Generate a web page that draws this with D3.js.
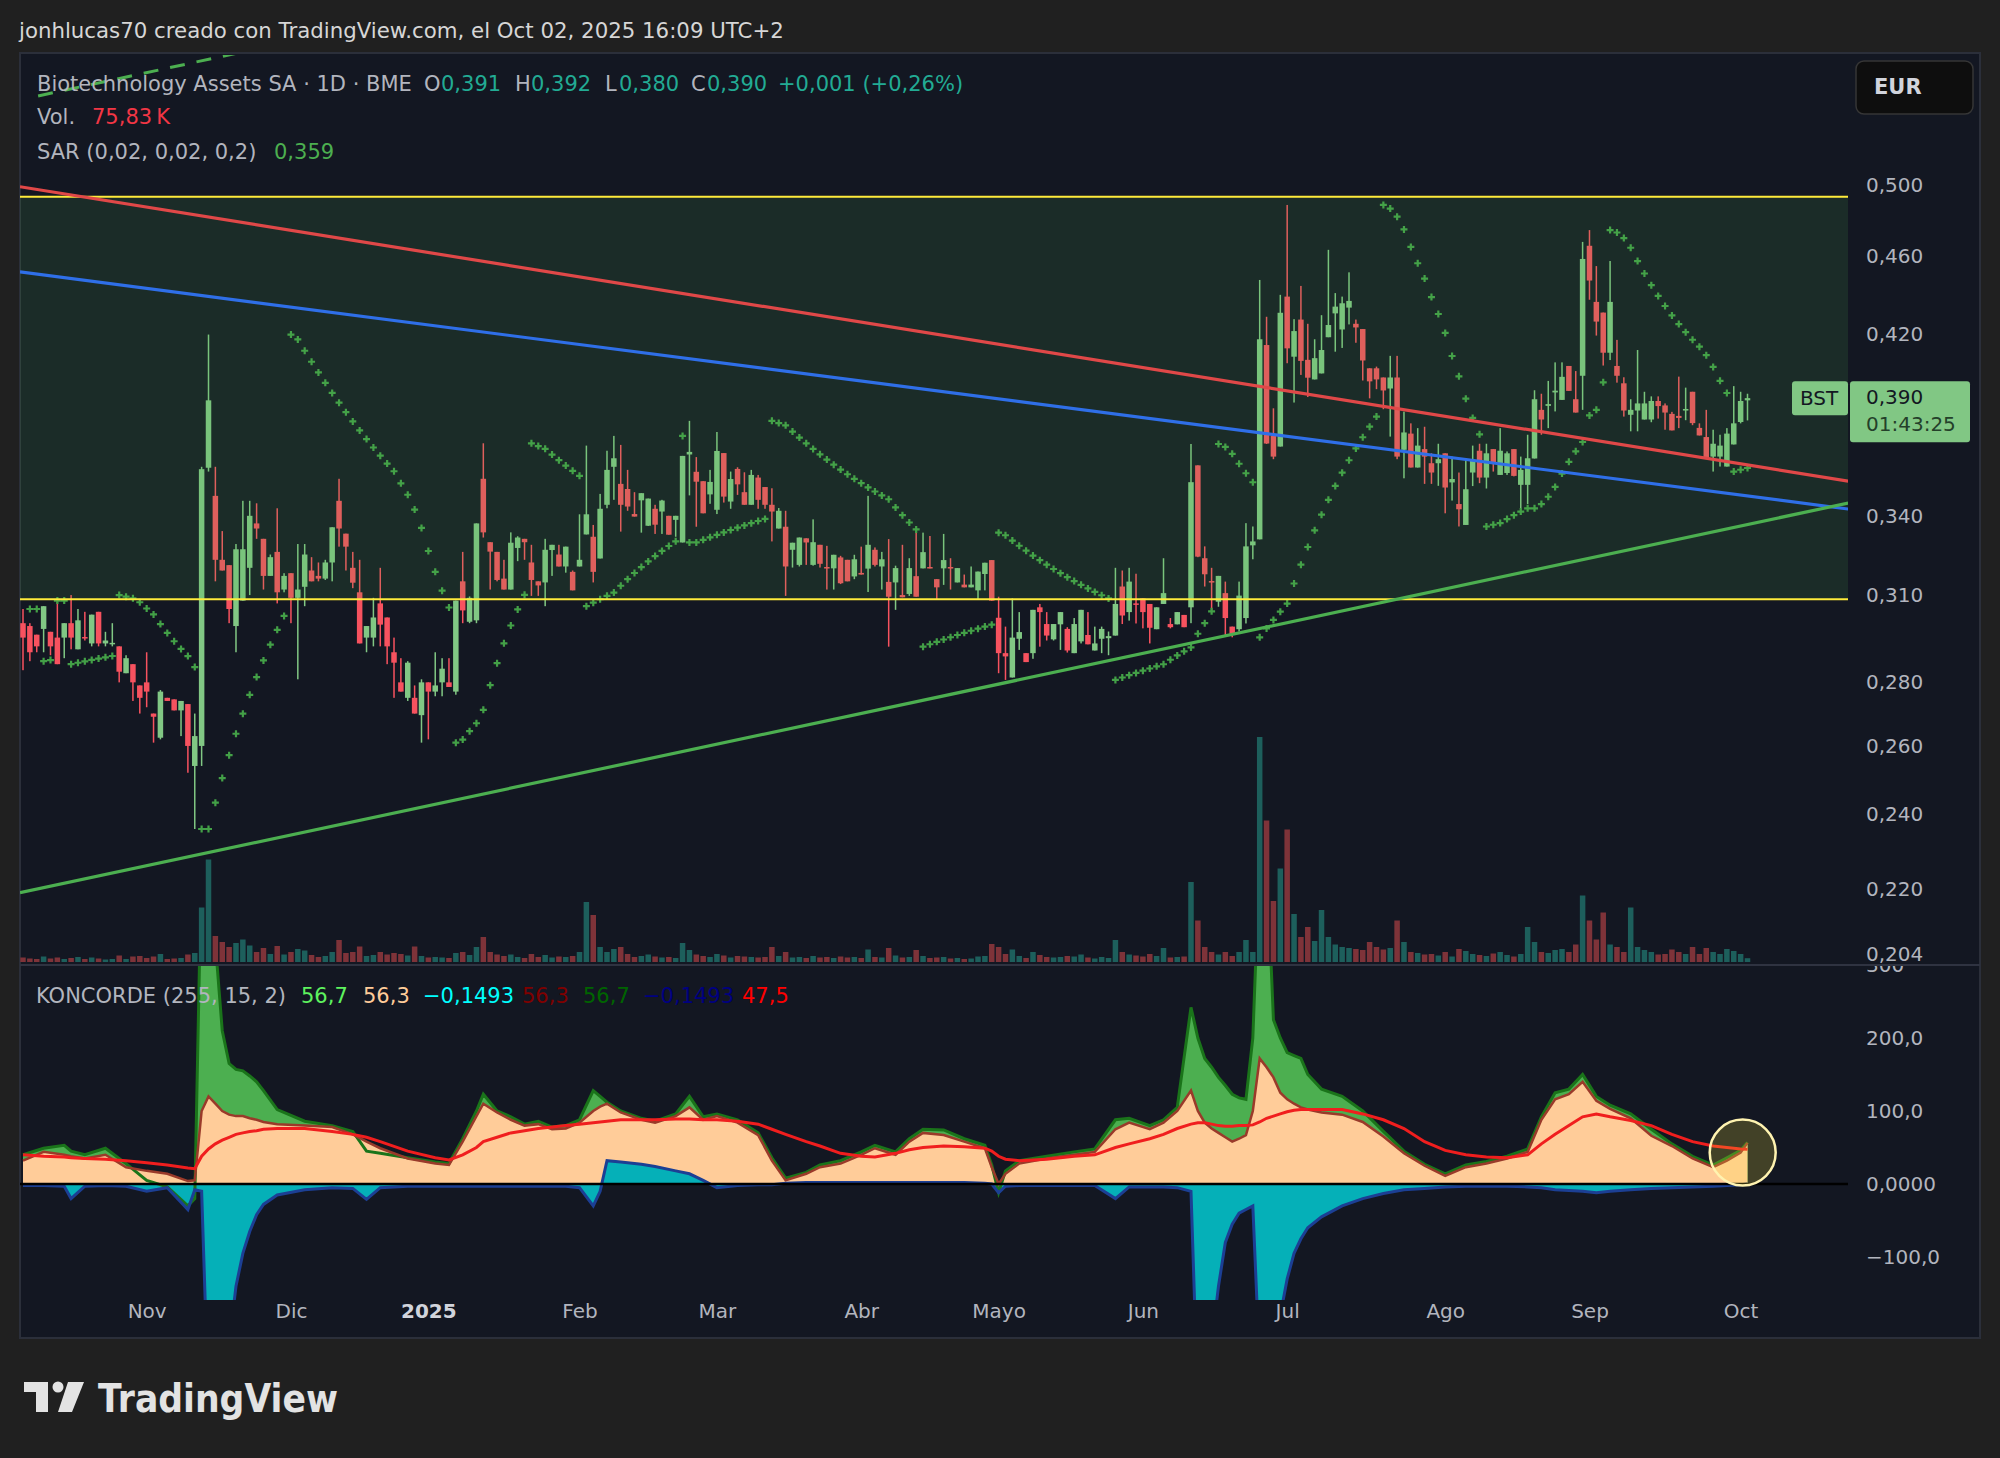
<!DOCTYPE html>
<html>
<head>
<meta charset="utf-8">
<title>BST 1D - Koncorde</title>
<script src="https://cdn.jsdelivr.net/npm/d3@7"></script>
<style>
  html, body { margin: 0; padding: 0; background: #202020; }
  svg { display: block; }
  text { font-family: "DejaVu Sans", sans-serif; }
</style>
</head>
<body>
<svg id="chart" width="2000" height="1458"></svg>
<script>
// ---------------- data ----------------
const firstDay = "2024-10-08";
const holidays = ["2024-12-25", "2024-12-26", "2025-01-01", "2025-04-18", "2025-04-21", "2025-05-01"];
const monthLabels = ["Nov", "Dic", "2025", "Feb", "Mar", "Abr", "Mayo", "Jun", "Jul", "Ago", "Sep", "Oct"];

const open = [
  .300,.299,.296,.298,.297,.295,.295,.300,.291,.2952,
  .293,.304,.293,.2928,.292,.283,.286,.279,.280,.270,
  .2625,.275,.2745,.271,.273,.254,.260,.3596,.348,.323,
  .321,.299,.308,.320,.337,.331,.317,.326,.312,.318,
  .309,.313,.319,.317,.316,.322,.346,.333,.320,.311,
  .295,.295,.307,.302,.290,.280,.275,.275,.2695,.280,
  .277,.280,.280,.277,.315,.3005,.301,.355,.3297,.326,
  .316,.312,.3275,.331,.322,.315,.3146,.3267,.325,.3205,
  .3185,.3205,.3327,.3318,.3235,.3444,.360,.3529,.3508,.3407,
  .3462,.3361,.3428,.3417,.340,.3384,.3296,.3652,.3579,.354,
  .3486,.3424,.3658,.3457,.3591,.3495,.3444,.3555,.3516,.3444,
  .335,.3357,.3268,.3211,.3312,.3211,.3287,.3203,.3198,.3239,
  .323,.3168,.3181,.3197,.3268,.3205,.3148,.3146,.310,.3104,
  .3169,.3198,.3203,.3158,.3198,.3203,.3146,.3138,.3128,.3117,
  .3177,.3229,.3019,.2897,.2816,.2946,.2897,.2897,.3056,.2997,
  .2944,.2996,.298,.2897,.2937,.2959,.2906,.2946,.2948,.2957,
  .3131,.3039,.307,.3088,.3068,.2979,.3068,.2997,.2996,.3029,
  .3056,.3606,.3236,.3151,.3076,.3107,.2988,.2979,.3018,.3285,
  .3308,.4149,.3732,.3686,.439,.4093,.4274,.4078,.3986,.4014,
  .4187,.4305,.4225,.4334,.4253,.4227,.4038,.4038,.3995,.3944,
  .3995,.3672,.3742,.3597,.3675,.3615,.3615,.3657,.3535,.3447,
  .3364,.3576,.3668,.3555,.3675,.3566,.3574,.3675,.3525,.3525,
  .3635,.3847,.3865,.3926,.3892,.4049,.3895,.4003,.4658,.4363,
  .4309,.4112,.4049,.3968,.3825,.3844,.3804,.3804,.3887,.3867,
  .3829,.382,.3844,.3929,.3767,.3727,.3643,.3643,.3601,.3695,
  .3793,.389
];
const high = [
  .305,.300,.296,.306,.297,.308,.300,.310,.305,.304,
  .303,.304,.297,.300,.292,.289,.286,.279,.290,.270,
  .2775,.275,.2745,.274,.273,.270,.360,.420,.360,.334,
  .321,.329,.346,.346,.345,.331,.325,.343,.318,.318,
  .329,.329,.324,.322,.323,.3355,.355,.333,.326,.323,
  .299,.309,.320,.302,.295,.288,.287,.279,.281,.280,
  .290,.288,.288,.308,.326,.3095,.337,.370,.3297,.326,
  .323,.3335,.332,.331,.3287,.315,.331,.3287,.3287,.328,
  .319,.3406,.369,.3364,.3488,.3668,.3732,.3693,.3587,.3495,
  .3491,.3469,.3444,.3464,.340,.340,.3646,.3798,.3641,.354,
  .3587,.3749,.3658,.358,.3598,.3577,.3587,.3566,.3516,.3511,
  .3431,.342,.3295,.3315,.3312,.3386,.3287,.3283,.3249,.3245,
  .323,.3249,.328,.348,.3277,.326,.3309,.3208,.3287,.3236,
  .3338,.3334,.3321,.3158,.3329,.3236,.3199,.3175,.3205,.3186,
  .3219,.3229,.3094,.2988,.3088,.3039,.2897,.3047,.3068,.3039,
  .2997,.3039,.2986,.3018,.3047,.3039,.2988,.2988,.2971,.320,
  .319,.320,.3178,.3088,.3068,.3056,.3236,.3018,.3039,.3029,
  .3697,.3606,.3281,.320,.317,.3149,.2988,.3149,.3371,.3358,
  .4476,.4288,.3854,.4399,.4885,.4276,.4445,.4253,.4177,.4296,
  .4636,.4408,.439,.4516,.4274,.4227,.4038,.4046,.3995,.4097,
  .4097,.3839,.3787,.3766,.3772,.3657,.3698,.3657,.3643,.3576,
  .3636,.369,.3698,.3698,.3675,.3766,.3665,.3675,.3643,.3737,
  .3936,.392,.3979,.4066,.4066,.4049,.4025,.4679,.4744,.4549,
  .4309,.4576,.4174,.3996,.3895,.4125,.3929,.3908,.3908,.3876,
  .3838,.3999,.3948,.3929,.3787,.3847,.3759,.3737,.3766,.3955,
  .3929,.392
];
const low = [
  .284,.287,.290,.290,.289,.286,.288,.291,.291,.294,
  .292,.292,.292,.292,.280,.283,.274,.270,.272,.261,
  .262,.274,.271,.263,.252,.236,.254,.358,.315,.319,
  .300,.290,.308,.310,.331,.312,.317,.307,.311,.300,
  .281,.306,.315,.315,.3155,.315,.328,.319,.3125,.293,
  .290,.292,.292,.286,.275,.277,.274,.270,.261,.262,
  .2755,.2755,.2785,.276,.300,.300,.300,.3315,.312,.315,
  .312,.312,.3225,.323,.3097,.3097,.306,.317,.3205,.3182,
  .3117,.3205,.3327,.3146,.3235,.343,.3464,.3338,.342,.3397,
  .3334,.336,.3329,.3329,.3326,.3318,.3296,.3482,.3357,.341,
  .3448,.3407,.3453,.3428,.3484,.3444,.3444,.3428,.3428,.330,
  .335,.3097,.3201,.3205,.3211,.3208,.3201,.312,.312,.314,
  .315,.3158,.3175,.3111,.3205,.312,.2919,.3047,.3092,.3097,
  .3094,.3198,.3198,.3083,.3137,.312,.3146,.3128,.3128,.3083,
  .3117,.308,.283,.2808,.2816,.2908,.2867,.2878,.2919,.294,
  .294,.2908,.2899,.2897,.293,.2927,.2906,.2897,.289,.2957,
  .2997,.3009,.2999,.2982,.293,.2979,.3068,.2982,.2996,.2986,
  .300,.324,.3131,.3044,.3058,.2953,.2951,.2971,.2999,.3232,
  .3308,.3697,.3632,.3686,.4062,.388,.4007,.3905,.3986,.4014,
  .4187,.4117,.4135,.425,.416,.3981,.3899,.3941,.385,.3729,
  .3632,.3552,.3597,.3597,.3529,.3529,.3521,.341,.3461,.3358,
  .3364,.352,.3532,.351,.358,.3566,.3566,.356,.343,.3447,
  .3635,.3737,.3766,.384,.3892,.3933,.3835,.3847,.4374,.4195,
  .4051,.4077,.3971,.3817,.3752,.3752,.3804,.3792,.3808,.3759,
  .3756,.3766,.3801,.3779,.3734,.3635,.358,.3601,.3601,.3695,
  .3787,.380
];
const close = [
  .295,.290,.292,.306,.292,.286,.300,.295,.301,.2947,
  .303,.293,.294,.2932,.2835,.288,.280,.275,.277,.269,
  .277,.274,.271,.274,.260,.263,.359,.389,.323,.319,
  .305,.327,.327,.340,.335,.317,.324,.311,.317,.309,
  .312,.325,.315,.316,.322,.3355,.335,.328,.3145,.293,
  .299,.302,.2995,.292,.2865,.277,.2865,.270,.280,.277,
  .279,.2845,.2785,.308,.3045,.309,.337,.3335,.3261,.3155,
  .312,.3295,.3315,.3297,.3155,.3135,.3268,.3287,.3205,.328,
  .3117,.323,.3406,.3185,.3428,.3587,.3636,.3444,.3437,.3397,
  .3491,.3469,.3365,.3461,.3326,.340,.3646,.3663,.3538,.341,
  .3537,.3667,.3477,.3549,.3527,.3444,.3566,.3464,.3444,.3417,
  .342,.3205,.3295,.3315,.3296,.3297,.3215,.3198,.3249,.3143,
  .315,.3232,.3175,.3287,.3211,.3232,.3094,.3199,.3092,.3199,
  .3094,.3259,.3198,.3128,.3229,.3198,.3199,.3128,.3138,.3186,
  .3219,.308,.2897,.2886,.295,.2969,.2867,.3047,.3039,.2957,
  .2997,.3039,.2906,.2997,.3047,.2927,.293,.298,.2955,.3068,
  .3027,.3149,.3065,.3039,.2984,.3056,.3107,.2986,.3039,.2986,
  .3536,.3242,.3176,.3146,.317,.3018,.2959,.3098,.3281,.330,
  .4177,.3699,.3643,.4308,.4133,.4217,.4073,.3994,.4086,.4125,
  .4247,.4339,.4356,.4368,.4235,.4075,.3977,.3986,.3935,.3995,
  .3643,.3747,.3597,.369,.3643,.3576,.3632,.3514,.3549,.3426,
  .3507,.3629,.3555,.3657,.3615,.3668,.3657,.3562,.3587,.3636,
  .3895,.3804,.3873,.3934,.3998,.3933,.3835,.4587,.4473,.4264,
  .4112,.4363,.4003,.3844,.3847,.3876,.3876,.3887,.3864,.3835,
  .3756,.3811,.3851,.3788,.3734,.3635,.3698,.369,.3742,.3787,
  .3887,.390
];
// volume in thousands of shares
const volume = [
  90,70,60,110,70,90,60,80,100,60,
  90,70,50,60,130,60,110,120,80,110,
  160,60,70,80,150,180,1090,2050,520,400,
  300,380,450,330,200,280,160,320,150,200,
  260,230,140,100,120,200,440,180,200,310,
  120,140,200,150,180,160,130,310,120,90,
  100,90,80,180,200,140,300,500,200,150,
  120,150,100,80,160,100,140,90,110,100,
  120,200,1200,940,300,200,260,300,160,100,
  120,150,110,90,100,80,380,240,150,120,
  100,160,130,90,120,110,100,90,100,300,
  120,200,90,100,80,120,90,100,80,110,
  90,100,80,250,100,90,280,130,90,100,
  240,120,80,90,100,70,80,60,70,110,
  120,360,300,160,250,120,80,200,140,100,
  90,100,120,110,150,90,70,100,80,440,
  200,150,130,110,160,120,280,90,100,110,
  1600,830,300,200,150,200,120,200,440,200,
  4500,2830,1220,1870,2650,960,500,700,420,1040,
  500,350,300,280,260,240,400,300,250,280,
  830,400,200,180,150,160,130,200,110,260,
  220,160,140,120,170,200,140,110,160,700,
  400,200,180,240,260,200,350,1330,830,450,
  990,350,300,200,1090,300,240,200,150,160,
  250,200,160,300,160,280,200,160,260,220,
  160,76
];

// drawn objects: [bar index, price]
const zoneLevels = [0.3085, 0.4932];
const redTrend = [[-0.44, 0.499], [265.65, 0.354]];
const blueTrend = [[-0.44, 0.4518], [265.65, 0.3427]];
const greenTrend = [[-0.44, 0.2191], [265.65, 0.3451]];
const dashTrend = [[2.2, 0.5547], [31.3, 0.5832]];

const priceTicks = [0.500, 0.460, 0.420, 0.340, 0.310, 0.280, 0.260, 0.240, 0.220, 0.204];
const konTicks = [300, 200, 100, 0, -100];
const konTickLabels = ["300", "200,0", "100,0", "0,0000", "\u2212100,0"];

// Koncorde (255, 15, 2)
const konIdx = [
  0,3,6,7,9,12,15,18,21,24,
  25,26,27,28,29,30,31,32,33,34,
  35,37,41,45,48,50,52,56,60,62,
  64,66,67,69,71,73,75,77,79,81,
  83,84,85,87,90,92,95,97,99,101,
  104,107,109,111,114,116,119,122,124,127,
  129,131,134,137,140,141,142,143,145,149,
  153,156,159,161,164,166,168,170,171,172,
  173,174,175,176,177,178,179,180,181,182,
  183,184,185,186,187,189,192,195,198,201,
  204,207,210,213,216,219,221,223,225,227,
  229,231,234,237,240,243,246,248,250,251
];
const konVerde = [
  40,49,53,45,40,49,28,5,-4,-30,
  -20,450,450,330,210,165,157,155,148,140,
  128,102,86,80,72,45,42,36,30,28,
  62,100,123,100,92,82,86,78,80,88,
  128,120,112,100,90,86,96,120,92,96,
  88,70,36,8,16,26,32,44,53,44,
  62,75,74,62,53,26,-12,18,32,38,
  44,48,88,90,80,88,105,242,200,172,
  160,146,135,123,118,116,200,450,450,225,
  200,180,176,172,150,130,120,100,72,45,
  27,14,26,31,38,48,92,125,130,150,
  120,108,96,75,55,38,26,36,46,56.7
];
const konMarron = [
  32,44,40,38,35,40,23,18,14,4,
  5,100,120,110,100,95,93,93,90,88,
  85,82,80,78,68,58,49,35,28,26,
  58,93,110,98,88,80,82,75,76,84,
  100,106,110,98,88,84,93,105,88,93,
  84,67,32,5,14,23,28,40,49,40,
  58,70,67,58,49,23,0,14,28,35,
  40,44,75,84,75,84,100,128,100,84,
  76,70,64,58,62,67,100,172,160,146,
  125,116,110,105,102,98,95,85,65,42,
  25,11,23,28,35,44,88,116,123,140,
  114,103,90,66,52,35,23,32,43,56.3
];
const konAzul = [
  -2,-2,-3,-20,-3,-2,-3,-10,-5,-35,
  -8,-10,-300,-300,-280,-220,-140,-95,-65,-42,
  -28,-15,-8,-5,-6,-21,-5,-3,-3,-3,
  -3,-3,-3,-3,-3,-3,-3,-3,-3,-5,
  -30,-10,32,30,27,24,18,14,5,-5,
  -2,-1,-1,1,2,2,2,2,2,2,
  2,2,2,2,1,0,-12,-3,-2,-2,
  -2,-2,-20,-4,-4,-4,-5,-10,-300,-300,
  -220,-140,-80,-55,-40,-35,-30,-250,-320,-250,
  -180,-130,-95,-75,-60,-45,-30,-20,-13,-8,
  -6,-4,-3,-3,-3,-4,-5,-8,-9,-10,
  -12,-10,-8,-6,-5,-4,-3,-2,-1,-0.1493
];
const konMedia = [
  40,38,37,36,35,34,32,29,26,22,
  21,38,48,55,60,64,68,70,72,73,
  75,76,76,72,68,64,58,45,36,33,
  40,50,58,64,70,73,76,78,80,82,
  84,85,86,88,88,88,89,89,88,88,
  86,82,75,68,58,52,42,38,37,42,
  47,50,52,51,49,45,38,34,32,34,
  38,40,50,55,62,68,76,82,84,84,
  82,80,79,79,80,80,81,85,90,93,
  96,99,101,102,102,102,102,96,88,76,
  58,46,40,37,36,40,55,68,80,92,
  96,92,87,80,68,58,52,50,48,47.5
];

// ---------------- helpers ----------------
function tradingDays(start, count, skip) {
  const out = [];
  const hol = new Set(skip);
  const d = new Date(start + "T12:00:00Z");
  while (out.length < count) {
    const dow = d.getUTCDay();
    const iso = d.toISOString().slice(0, 10);
    if (dow !== 0 && dow !== 6 && !hol.has(iso)) out.push(new Date(d));
    d.setUTCDate(d.getUTCDate() + 1);
  }
  return out;
}

// same logic as pine's ta.sar
function parabolicSar(h, l, c, start, inc, max) {
  const out = new Array(c.length).fill(null);
  let result, maxMin, acc, isBelow;
  for (let i = 1; i < c.length; i++) {
    let first = false;
    if (i === 1) {
      if (c[1] > c[0]) { isBelow = true; maxMin = h[1]; result = l[0]; }
      else { isBelow = false; maxMin = l[1]; result = h[0]; }
      first = true;
      acc = start;
    }
    result = result + acc * (maxMin - result);
    if (isBelow) {
      if (result > l[i]) { first = true; isBelow = false; result = Math.max(h[i], maxMin); maxMin = l[i]; acc = start; }
    } else {
      if (result < h[i]) { first = true; isBelow = true; result = Math.min(l[i], maxMin); maxMin = h[i]; acc = start; }
    }
    if (!first) {
      if (isBelow) { if (h[i] > maxMin) { maxMin = h[i]; acc = Math.min(acc + inc, max); } }
      else { if (l[i] < maxMin) { maxMin = l[i]; acc = Math.min(acc + inc, max); } }
    }
    if (isBelow) { result = Math.min(result, l[i - 1]); if (i > 1) result = Math.min(result, l[i - 2]); }
    else { result = Math.max(result, h[i - 1]); if (i > 1) result = Math.max(result, h[i - 2]); }
    out[i] = result;
  }
  return out;
}

// ---------------- layout ----------------
const svg = d3.select('#chart');
const width = +svg.attr('width');
const height = +svg.attr('height');

const plotLeft = 20, plotRight = 1848;
const paneTop = 55, paneBottom = 965;
const konTop = 966, konBottom = 1300;

const n = close.length;
const days = tradingDays(firstDay, n, holidays);

const x = d3.scaleLinear().domain([0, n - 1]).range([23, 1747.5]);
const y = d3.scaleLog().domain([0.204, 0.5]).range([954, 185]);
const yVol = d3.scaleLinear().domain([0, 4500]).range([962, 737]);
const yKon = d3.scaleLinear().domain([0, 100]).range([1184, 1111]);

const fmt = d3.formatLocale({decimal: ",", thousands: ".", grouping: [3], currency: ["", ""], minus: "\u2212"}).format(".3f");

const upCol = '#81c784', downCol = '#f7525f';

svg.append('rect').attr('width', width).attr('height', height).attr('fill', '#202020');
svg.append('rect')
  .attr('x', 20).attr('y', 53).attr('width', 1960).attr('height', 1285)
  .attr('fill', '#131722').attr('stroke', '#2b2f3a').attr('stroke-width', 2);

svg.append('text')
  .attr('x', 19).attr('y', 32)
  .attr('dominant-baseline', 'middle')
  .attr('font-size', 21.3).attr('fill', '#d6d6d6')
  .text('jonhlucas70 creado con TradingView.com, el Oct 02, 2025 16:09 UTC+2');

const defs = svg.append('defs');
defs.append('clipPath').attr('id', 'clipPrice').append('rect')
  .attr('x', plotLeft).attr('y', paneTop).attr('width', plotRight - plotLeft).attr('height', paneBottom - paneTop);
defs.append('clipPath').attr('id', 'clipKon').append('rect')
  .attr('x', plotLeft).attr('y', konTop).attr('width', plotRight - plotLeft).attr('height', konBottom - konTop);
defs.append('clipPath').attr('id', 'clipKonAxis').append('rect')
  .attr('x', plotRight).attr('y', konTop).attr('width', 132).attr('height', konBottom - konTop);

// ---------------- price pane ----------------
const bars = d3.range(n).map(i => ({
  i, o: open[i], h: high[i], l: low[i], c: close[i], v: volume[i], up: close[i] >= open[i]
}));

const g = svg.append('g').attr('clip-path', 'url(#clipPrice)');

g.append('g').selectAll('rect')
  .data(bars)
  .enter()
  .append('rect')
  .attr('x', d => x(d.i) - 2.75)
  .attr('width', 5.5)
  .attr('y', d => yVol(d.v))
  .attr('height', d => yVol(0) - yVol(d.v))
  .attr('fill', d => d.up ? '#1d5f5c' : '#7e3339');

const candles = g.append('g').selectAll('g')
  .data(bars)
  .enter()
  .append('g')
  .attr('fill', d => d.up ? upCol : downCol);

candles.append('rect')
  .attr('x', d => x(d.i) - 0.75)
  .attr('width', 1.5)
  .attr('y', d => y(d.h))
  .attr('height', d => Math.max(1, y(d.l) - y(d.h)));

candles.append('rect')
  .attr('x', d => x(d.i) - 2.75)
  .attr('width', 5.5)
  .attr('y', d => y(Math.max(d.o, d.c)))
  .attr('height', d => Math.max(1.5, Math.abs(y(d.o) - y(d.c))));

const sar = parabolicSar(high, low, close, 0.02, 0.02, 0.2);
g.append('g').selectAll('path')
  .data(sar.map((s, i) => ({i, s})).filter(d => d.s !== null))
  .enter()
  .append('path')
  .attr('d', 'M-3.5,0H3.5M0,-3.5V3.5')
  .attr('transform', d => 'translate(' + x(d.i) + ',' + y(d.s) + ')')
  .attr('stroke', '#43a047')
  .attr('stroke-width', 2.2);

// rectangle drawing
g.append('rect')
  .attr('x', plotLeft).attr('width', plotRight - plotLeft)
  .attr('y', y(zoneLevels[1])).attr('height', y(zoneLevels[0]) - y(zoneLevels[1]))
  .attr('fill', 'rgba(76,175,80,0.14)');

g.selectAll('line.zone')
  .data(zoneLevels)
  .enter()
  .append('line')
  .attr('class', 'zone')
  .attr('x1', plotLeft).attr('x2', plotRight)
  .attr('y1', d => y(d)).attr('y2', d => y(d))
  .attr('stroke', '#ffeb3b').attr('stroke-width', 2);

const trendLine = d3.line().x(d => x(d[0])).y(d => y(d[1]));
[[redTrend, '#e04848'], [blueTrend, '#2f6fe8'], [greenTrend, '#4caf50']].forEach(([pts, col]) => {
  g.append('path').attr('d', trendLine(pts))
    .attr('fill', 'none').attr('stroke', col).attr('stroke-width', 3.2);
});
g.append('path').attr('d', trendLine(dashTrend))
  .attr('fill', 'none').attr('stroke', '#4caf50').attr('stroke-width', 3)
  .attr('stroke-dasharray', '15 12');

// legend
const legend1 = [
  ['Biotechnology Assets SA \u00b7 1D \u00b7 BME', '#b2b5be', 37],
  ['O', '#b2b5be', 424], ['0,391', '#22ab94', 441],
  ['H', '#b2b5be', 515], ['0,392', '#22ab94', 531],
  ['L', '#b2b5be', 605], ['0,380', '#22ab94', 619],
  ['C', '#b2b5be', 691], ['0,390', '#22ab94', 707],
  ['+0,001 (+0,26%)', '#22ab94', 778]
];
const legend2 = [['Vol.', '#b2b5be', 37], ['75,83\u2009K', '#f23645', 92]];
const legend3 = [['SAR (0,02, 0,02, 0,2)', '#b2b5be', 37], ['0,359', '#4caf50', 274]];

function drawLegend(items, yy) {
  svg.append('g').selectAll('text')
    .data(items)
    .enter()
    .append('text')
    .attr('x', d => d[2]).attr('y', yy)
    .attr('dominant-baseline', 'middle')
    .attr('font-size', 21)
    .attr('fill', d => d[1])
    .text(d => d[0]);
}
drawLegend(legend1, 85);
drawLegend(legend2, 118);
drawLegend(legend3, 153);

// price axis
const yAxisG = svg.append('g')
  .attr('transform', 'translate(1856,0)')
  .call(d3.axisRight(y).tickValues(priceTicks).tickFormat(fmt).tickSize(0).tickPadding(10));
yAxisG.select('.domain').remove();
yAxisG.selectAll('text')
  .attr('font-family', 'DejaVu Sans').attr('font-size', 20).attr('fill', '#b2b5be');

// currency box
svg.append('rect')
  .attr('x', 1856).attr('y', 61).attr('width', 117).attr('height', 53).attr('rx', 8)
  .attr('fill', '#0e0e0e').attr('stroke', '#363636').attr('stroke-width', 1.5);
svg.append('text')
  .attr('x', 1874).attr('y', 88).attr('dominant-baseline', 'middle')
  .attr('font-size', 21).attr('font-weight', 600).attr('fill', '#d1d4dc')
  .text('EUR');

// last price labels
const lastY = y(close[n - 1]);
svg.append('rect')
  .attr('x', 1792).attr('y', lastY - 17).attr('width', 56).attr('height', 34).attr('rx', 3)
  .attr('fill', upCol);
svg.append('text')
  .attr('x', 1800).attr('y', lastY + 1).attr('dominant-baseline', 'middle')
  .attr('font-size', 20).attr('fill', '#131722').text('BST');
svg.append('rect')
  .attr('x', 1850).attr('y', lastY - 17).attr('width', 120).attr('height', 61).attr('rx', 3)
  .attr('fill', upCol);
svg.append('text')
  .attr('x', 1866).attr('y', lastY).attr('dominant-baseline', 'middle')
  .attr('font-size', 20).attr('fill', '#131722').text(fmt(close[n - 1]));
svg.append('text')
  .attr('x', 1866).attr('y', lastY + 27).attr('dominant-baseline', 'middle')
  .attr('font-size', 20).attr('fill', '#24402a').text('01:43:25');

// pane separator
svg.append('line')
  .attr('x1', 20).attr('x2', 1980).attr('y1', 965).attr('y2', 965)
  .attr('stroke', '#2f3341').attr('stroke-width', 2);

// ---------------- koncorde pane ----------------
const kon = konIdx.map((i, k) => ({i, g: konVerde[k], b: konMarron[k], c: konAzul[k], m: konMedia[k]}));
const kg = svg.append('g').attr('clip-path', 'url(#clipKon)');

const areaOf = key => d3.area().x(d => x(d.i)).y0(yKon(0)).y1(d => yKon(d[key]));
const lineOf = key => d3.line().x(d => x(d.i)).y(d => yKon(d[key]));

kg.append('path').attr('d', areaOf('g')(kon)).attr('fill', '#4caf50');
kg.append('path').attr('d', areaOf('b')(kon)).attr('fill', '#ffcc99');
kg.append('path').attr('d', areaOf('c')(kon)).attr('fill', '#05b0b8');
kg.append('path').attr('d', lineOf('g')(kon)).attr('fill', 'none').attr('stroke', '#1a741a').attr('stroke-width', 3);
kg.append('path').attr('d', lineOf('b')(kon)).attr('fill', 'none').attr('stroke', '#9a3a2a').attr('stroke-width', 2.5);
kg.append('path').attr('d', lineOf('c')(kon)).attr('fill', 'none').attr('stroke', '#1c3f94').attr('stroke-width', 3);
kg.append('line')
  .attr('x1', plotLeft).attr('x2', plotRight).attr('y1', yKon(0)).attr('y2', yKon(0))
  .attr('stroke', '#000000').attr('stroke-width', 2.5);
kg.append('path').attr('d', lineOf('m')(kon)).attr('fill', 'none').attr('stroke', '#f01e1e').attr('stroke-width', 3);

// highlight circle on the last bars
kg.append('circle')
  .attr('cx', x(250.3)).attr('cy', yKon(43)).attr('r', 33)
  .attr('fill', 'rgba(255,235,59,0.2)').attr('stroke', '#fff3b0').attr('stroke-width', 2.5);

const konLegend = [
  ['KONCORDE (255, 15, 2)', '#b2b5be', 36],
  ['56,7', '#5ef25e', 301], ['56,3', '#ffcc99', 363], ['\u22120,1493', '#00ffff', 423],
  ['56,3', '#800000', 522], ['56,7', '#006400', 583], ['\u22120,1493', '#000080', 643],
  ['47,5', '#ff0000', 742]
];
drawLegend(konLegend, 997);

const kAxisG = svg.append('g')
  .attr('clip-path', 'url(#clipKonAxis)')
  .append('g')
  .attr('transform', 'translate(1856,0)')
  .call(d3.axisRight(yKon).tickValues(konTicks).tickFormat((d, k) => konTickLabels[k]).tickSize(0).tickPadding(10));
kAxisG.select('.domain').remove();
kAxisG.selectAll('text')
  .attr('font-family', 'DejaVu Sans').attr('font-size', 20).attr('fill', '#b2b5be');

// ---------------- time axis ----------------
const monthIdx = d3.range(1, n).filter(i => days[i].getUTCMonth() !== days[i - 1].getUTCMonth());
const xAxisG = svg.append('g')
  .attr('transform', 'translate(0,1300)')
  .call(d3.axisBottom(x).tickValues(monthIdx).tickFormat((d, k) => monthLabels[k]).tickSize(0).tickPadding(4));
xAxisG.select('.domain').remove();
xAxisG.selectAll('text')
  .attr('font-family', 'DejaVu Sans').attr('font-size', 20)
  .attr('fill', d => monthLabels[monthIdx.indexOf(d)] === '2025' ? '#d1d4dc' : '#b2b5be')
  .attr('font-weight', d => monthLabels[monthIdx.indexOf(d)] === '2025' ? 'bold' : 'normal');

// ---------------- footer logo ----------------
const logo = svg.append('g').attr('fill', '#e3e3e3');
logo.append('path').attr('d', 'M24,1382H48V1412H36V1392H24Z');
logo.append('circle').attr('cx', 58).attr('cy', 1387).attr('r', 5.5);
logo.append('path').attr('d', 'M68,1382H84L72,1412H58Z');
logo.append('text')
  .attr('x', 98).attr('y', 1412)
  .attr('font-family', 'Roboto, sans-serif').attr('font-weight', 700).attr('font-size', 39)
  .attr('textLength', 240).attr('lengthAdjust', 'spacingAndGlyphs')
  .text('TradingView');
</script>
</body>
</html>
